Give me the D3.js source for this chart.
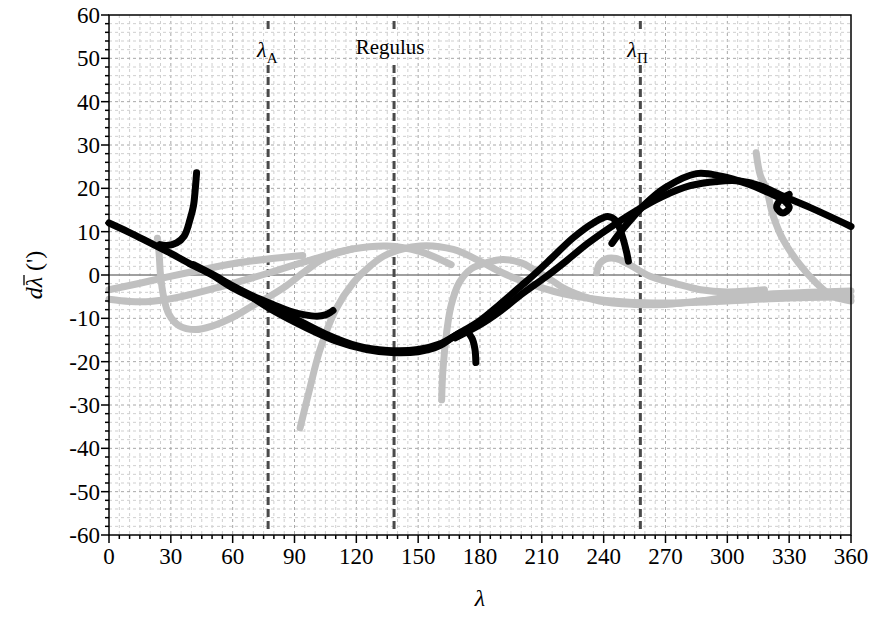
<!DOCTYPE html>
<html><head><meta charset="utf-8">
<script src="https://cdn.jsdelivr.net/npm/d3@7"></script>
<style>body{margin:0;background:#fff;font-family:"Liberation Serif",serif}svg{display:block}
svg text, svg tspan{font-family:"Liberation Serif",serif !important}</style>
</head><body><svg id="c" width="873" height="619" font-family="Liberation Serif, serif" style="font-family:'Liberation Serif',serif"></svg>
<script>
// ---- data ----
const xTicks = [0,30,60,90,120,150,180,210,240,270,300,330,360];
const yTicks = [60,50,40,30,20,10,0,-10,-20,-30,-40,-50,-60];
const markerNames = ["A","Regulus","Π"];
const markerLambda = [77.2, 138.3, 257.8];

// black series: [lambda, dlambda]
const black1 = [[0,12],[10,9.8],[20,7.4],[30,5],[40,2.4],[50,0],[60,-3],[70,-5.3],[77,-6.8],[90,-10],[105,-13.6],[120,-16.3],[135,-17.4],[150,-17.2],[160,-16],[170,-13.4],[180,-10.5],[190,-6.6],[200,-2.5],[206,0],[215,4],[225,8.5],[235,12],[242,13.5],[246,12.5],[249,9],[251,5.5],[252,3.2]];
const black2 = [[70,-5.3],[80,-8.3],[95,-12],[110,-15.2],[125,-17.2],[137,-17.9],[150,-17.7],[160,-16.4],[168,-14],[173,-13],[176,-14.5],[177.5,-17],[178,-20.2]];
const black3 = [[168,-14.5],[180,-11.5],[190,-8.3],[200,-4.5],[212,-0.4],[222,3.3],[232,7.2],[242,10.6],[255,14.6],[268,18],[282,20.6],[295,21.6],[306,21.7],[316,20.6],[326,18.4],[340,15.6],[360,11.2]];
const black4 = [[244,7.3],[250,11],[260,16.3],[270,20.2],[285,23.4],[297,22.8],[310,21],[320,19],[328,17],[330,15.5],[327,14.3],[324,15.5],[326,17.5],[330,18.6]];
const black5 = [[41,2.4],[50,0.2],[60,-2.5],[70,-4.9],[80,-6.9],[88,-8.4],[95,-9.2],[101,-9.5],[105,-9.2],[107.5,-8.6],[108.7,-8.2]];
const black6 = [[24.7,7],[28,6.8],[32.8,7.4],[36.5,9],[39.3,12.8],[41,16],[41.7,19],[42.5,23.6]];

// gray series
const gray1 = [[0,-3.4],[15,-1.9],[28,-0.5],[45,1.2],[60,2.6],[77,3.7],[94,4.5]];
const gray2 = [[0,-5.6],[10,-6.1],[20,-6.1],[36,-4.9],[55,-2.6],[77,0.4],[100,3.8],[118,6],[135,6.7],[151,5.4],[166,2.4]];
const gray3 = [[23.5,8.5],[24.3,5],[25,0],[26.5,-5],[29,-9],[34,-11.7],[42,-12.6],[50,-11.8],[60,-9.8],[70,-7],[77,-5.2],[86,-2.5],[95,0.8],[105,4],[118,6]];
const gray4 = [[92.7,-35.3],[97,-27],[102.4,-17.2],[110,-8],[118.5,-1.8],[127,2.2],[134.7,4.7],[151,6.7],[167,5.9],[180,3.2],[190,0.7],[200,-1.3],[220,-4.3],[240,-5.8],[260,-6.4],[280,-6.4],[300,-6],[330,-5.3],[360,-5]];
const gray5 = [[161.4,-28.8],[162,-22],[163.8,-13.3],[166,-7],[170,-1.7],[176,1.5],[183,2.8],[191,3.6],[200,2.8],[206,1.3],[215,-1.3],[222,-3.4],[238,-6],[255,-6.8],[270,-6.8],[290,-5.8],[303,-4.9],[335,-4.1],[360,-3.7]];
const gray6 = [[236.6,0.5],[238,2.6],[241,3.7],[246,3.8],[252,2.5],[262.5,-0.3],[275,-2],[287,-3.4],[300,-3.9],[318,-3.4]];
const gray7 = [[314,28.2],[316,23],[319,19.8],[322,14],[327,8.2],[335,2.5],[343,-1.8],[351,-4.9],[360,-6]];

const blackSeries = [black1,black2,black3,black4,black5,black6];
const graySeries = [gray1,gray2,gray3,gray4,gray5,gray6,gray7];

// ---- chart ----
const FONT = '"Liberation Serif", serif';
const svg = d3.select("#c");
const L=109, R=851, T=15, B=535;
const x = d3.scaleLinear().domain([0,360]).range([L,R]);
const y = d3.scaleLinear().domain([-60,60]).range([B,T]);

// grid
const g = svg.append("g");
d3.range(0,361,5).forEach(v=>{
  const major = v%30===0;
  if(v===0||v===360) return;
  g.append("line").attr("x1",x(v)).attr("x2",x(v)).attr("y1",T).attr("y2",B)
   .attr("stroke",major?"#a8a8a8":"#cfcfcf").attr("stroke-width",1).attr("stroke-dasharray","3,3");
});
d3.range(-60,61,2).forEach(v=>{
  const major = v%10===0;
  if(v===60||v===-60||v===0) return;
  g.append("line").attr("y1",y(v)).attr("y2",y(v)).attr("x1",L).attr("x2",R)
   .attr("stroke",major?"#a8a8a8":"#cfcfcf").attr("stroke-width",1).attr("stroke-dasharray","3,3");
});
// zero line
g.append("line").attr("x1",L).attr("x2",R).attr("y1",y(0)).attr("y2",y(0))
 .attr("stroke","#808080").attr("stroke-width",1.6);

// marker lines
markerLambda.forEach((m,i)=>{
  const xx = x(m);
  g.append("line").attr("x1",xx).attr("x2",xx).attr("y1",T+6).attr("y2",32)
   .attr("stroke","#4a4a4a").attr("stroke-width",3).attr("stroke-dasharray","8,4");
  g.append("line").attr("x1",xx).attr("x2",xx).attr("y1",65).attr("y2",B-4)
   .attr("stroke","#4a4a4a").attr("stroke-width",3).attr("stroke-dasharray","8,4");
});

// labels for markers
const lab = svg.append("g").attr("fill","#000");
function lamSub(xx, sub){
  const t = lab.append("text").attr("x",xx).attr("y",57).attr("font-size",22)
    .attr("font-family",FONT).style("font-family",FONT);
  t.append("tspan").attr("font-style","italic").text("λ");
  t.append("tspan").attr("font-size",15).attr("dy",6).text(sub);
}
lamSub(x(markerLambda[0])-11, markerNames[0]);
lab.append("text").attr("x",x(markerLambda[1])-4).attr("y",54).attr("text-anchor","middle")
  .attr("font-size",21).attr("font-family",FONT).style("font-family",FONT).text(markerNames[1]);
lamSub(x(markerLambda[2])-13, markerNames[2]);

// series
const line = d3.line().x(d=>x(d[0])).y(d=>y(d[1])).curve(d3.curveCatmullRom.alpha(0.5));
const sg = svg.append("g");
graySeries.forEach(s=>{
  sg.append("path").attr("d",line(s)).attr("fill","none").attr("stroke","#c0c0c0")
    .attr("stroke-width",7).attr("stroke-linecap","round").attr("stroke-linejoin","round");
});
blackSeries.forEach(s=>{
  sg.append("path").attr("d",line(s)).attr("fill","none").attr("stroke","#000")
    .attr("stroke-width",7).attr("stroke-linecap","round").attr("stroke-linejoin","round");
});

// frame
svg.append("rect").attr("x",L).attr("y",T).attr("width",R-L).attr("height",B-T)
  .attr("fill","none").attr("stroke","#000").attr("stroke-width",1.5);

// axes ticks
const ax = svg.append("g");
d3.range(0,361,5).forEach(v=>{
  const major = v%30===0;
  ax.append("line").attr("x1",x(v)).attr("x2",x(v)).attr("y1",B).attr("y2",B+(major?8:4))
    .attr("stroke","#000").attr("stroke-width",1.5);
});
d3.range(-60,61,2).forEach(v=>{
  const major = v%10===0;
  ax.append("line").attr("y1",y(v)).attr("y2",y(v)).attr("x1",L).attr("x2",L-(major?8:4))
    .attr("stroke","#000").attr("stroke-width",1.5);
});
const tl = svg.append("g").attr("fill","#000").attr("font-family",FONT);
xTicks.forEach(v=>{
  tl.append("text").attr("x",x(v)).attr("y",B+29).attr("text-anchor","middle")
    .attr("font-size",23).attr("font-family",FONT).style("font-family",FONT).text(String(v));
});
yTicks.forEach(v=>{
  tl.append("text").attr("x",L-9).attr("y",y(v)+8).attr("text-anchor","end")
    .attr("font-size",23).attr("font-family",FONT).style("font-family",FONT).text(String(v));
});
// axis titles
tl.append("text").attr("x",480).attr("y",606).attr("text-anchor","middle")
  .attr("font-style","italic").attr("font-size",24).attr("font-family",FONT).style("font-family",FONT).text("λ");
const yg = tl.append("g").attr("transform",`translate(42,${y(0)}) rotate(-90)`);
const yt = yg.append("text").attr("font-size",24).attr("font-family",FONT).style("font-family",FONT);
const tD = yt.append("tspan").attr("font-style","italic").text("d");
const tL = yt.append("tspan").attr("font-style","italic").text("λ");
yt.append("tspan").text(" (')");
const wTot = yt.node().getComputedTextLength();
yt.attr("x",-wTot/2);
const wd = tD.node().getComputedTextLength();
const wl = tL.node().getComputedTextLength();
yg.append("line").attr("x1",-wTot/2+wd+2).attr("x2",-wTot/2+wd+wl+2)
  .attr("y1",-18).attr("y2",-18).attr("stroke","#000").attr("stroke-width",1.3);
</script></body></html>
